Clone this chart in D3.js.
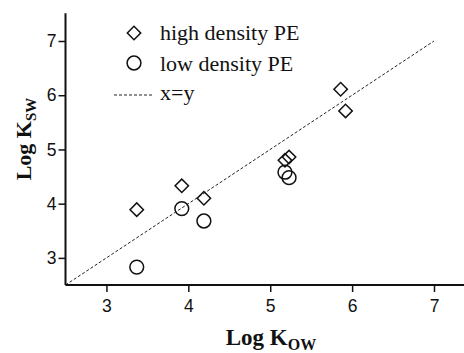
<!DOCTYPE html>
<html><head><meta charset="utf-8">
<script src="https://cdn.jsdelivr.net/npm/d3@7"></script>
<style>body{margin:0;background:#fff}svg{display:block}</style>
</head><body>
<script>
const hdpeX = [3.37, 3.92, 4.19, 5.18, 5.23, 5.86, 5.92];
const hdpeY = [3.89, 4.33, 4.10, 4.80, 4.86, 6.11, 5.71];
const ldpeX = [3.37, 3.92, 4.19, 5.18, 5.23];
const ldpeY = [2.83, 3.91, 3.68, 4.58, 4.48];
const xTicks = [3, 4, 5, 6, 7];
const yTicks = [3, 4, 5, 6, 7];
const legendLabels = ["high density PE", "low density PE", "x=y"];

const W = 464, H = 353;
const svg = d3.select("body").append("svg").attr("width", W).attr("height", H);
const x = d3.scaleLinear().domain([2.5, 7]).range([65.5, 434]);
const y = d3.scaleLinear().domain([2.5, 7]).range([285, 41]);

// x=y line
svg.append("line")
  .attr("x1", x(2.5)).attr("y1", y(2.5)).attr("x2", x(7)).attr("y2", y(7))
  .attr("stroke", "#222").attr("stroke-width", 1).attr("stroke-dasharray", "3,2");

// axes
const xAxis = svg.append("g").attr("transform", `translate(0,${y(2.5)})`)
  .call(d3.axisBottom(x).tickValues(xTicks).tickSize(7).tickSizeOuter(0).tickFormat(d3.format("d")));
xAxis.select(".domain").attr("d", `M${x(2.5)},0H${W}`);
const yAxis = svg.append("g").attr("transform", `translate(${x(2.5)},0)`)
  .call(d3.axisLeft(y).tickValues(yTicks).tickSize(7).tickSizeOuter(0).tickFormat(d3.format("d")));
yAxis.select(".domain").attr("d", `M0,${y(2.5)}V${y(7.51)}`);
[xAxis, yAxis].forEach(a => {
  a.select(".domain").attr("stroke", "#111").attr("stroke-width", 2);
  a.selectAll(".tick line").attr("stroke", "#111").attr("stroke-width", 1.5);
  a.selectAll(".tick text").attr("font-family", "Liberation Sans, Arial, sans-serif")
    .attr("font-size", 17.5).attr("fill", "#111");
});
xAxis.selectAll(".tick text").attr("y", 10).attr("dy", "0.95em");
yAxis.selectAll(".tick text").attr("x", -9);

// points
const diamond = d3.symbol().type(d3.symbolSquare).size(90);
svg.append("g").selectAll("path").data(hdpeX.map((v, i) => [v, hdpeY[i]])).join("path")
  .attr("d", diamond)
  .attr("transform", d => `translate(${x(d[0])},${y(d[1])}) rotate(45)`)
  .attr("fill", "none").attr("stroke", "#111").attr("stroke-width", 1.5);
svg.append("g").selectAll("circle").data(ldpeX.map((v, i) => [v, ldpeY[i]])).join("circle")
  .attr("cx", d => x(d[0])).attr("cy", d => y(d[1])).attr("r", 6.9)
  .attr("fill", "none").attr("stroke", "#111").attr("stroke-width", 1.5);

// legend
const lg = svg.append("g");
lg.append("path").attr("d", diamond).attr("transform", "translate(134,33) rotate(45)")
  .attr("fill", "none").attr("stroke", "#111").attr("stroke-width", 1.5);
lg.append("circle").attr("cx", 134).attr("cy", 63).attr("r", 6.9)
  .attr("fill", "none").attr("stroke", "#111").attr("stroke-width", 1.5);
lg.append("line").attr("x1", 114).attr("x2", 152).attr("y1", 95).attr("y2", 95)
  .attr("stroke", "#222").attr("stroke-width", 1).attr("stroke-dasharray", "3,2");
[40, 70.5, 100].forEach((yy, i) => {
  lg.append("text").attr("x", 160).attr("y", yy).text(legendLabels[i])
    .attr("font-family", "Liberation Serif, Times New Roman, serif").attr("font-size", 22).attr("fill", "#111");
});

// axis titles
const xt = svg.append("text").attr("x", 271).attr("y", 345).attr("text-anchor", "middle")
  .attr("font-family", "Liberation Serif, Times New Roman, serif").attr("font-weight", "bold")
  .attr("font-size", 23).attr("fill", "#111");
xt.append("tspan").text("Log K");
xt.append("tspan").text("OW").attr("font-size", 16).attr("dy", 5);

const yt = svg.append("text").attr("transform", "translate(31,139) rotate(-90)").attr("text-anchor", "middle")
  .attr("font-family", "Liberation Serif, Times New Roman, serif").attr("font-weight", "bold")
  .attr("font-size", 22).attr("fill", "#111");
yt.append("tspan").text("Log K");
yt.append("tspan").text("SW").attr("font-size", 15).attr("dy", 5);
</script>
</body></html>
